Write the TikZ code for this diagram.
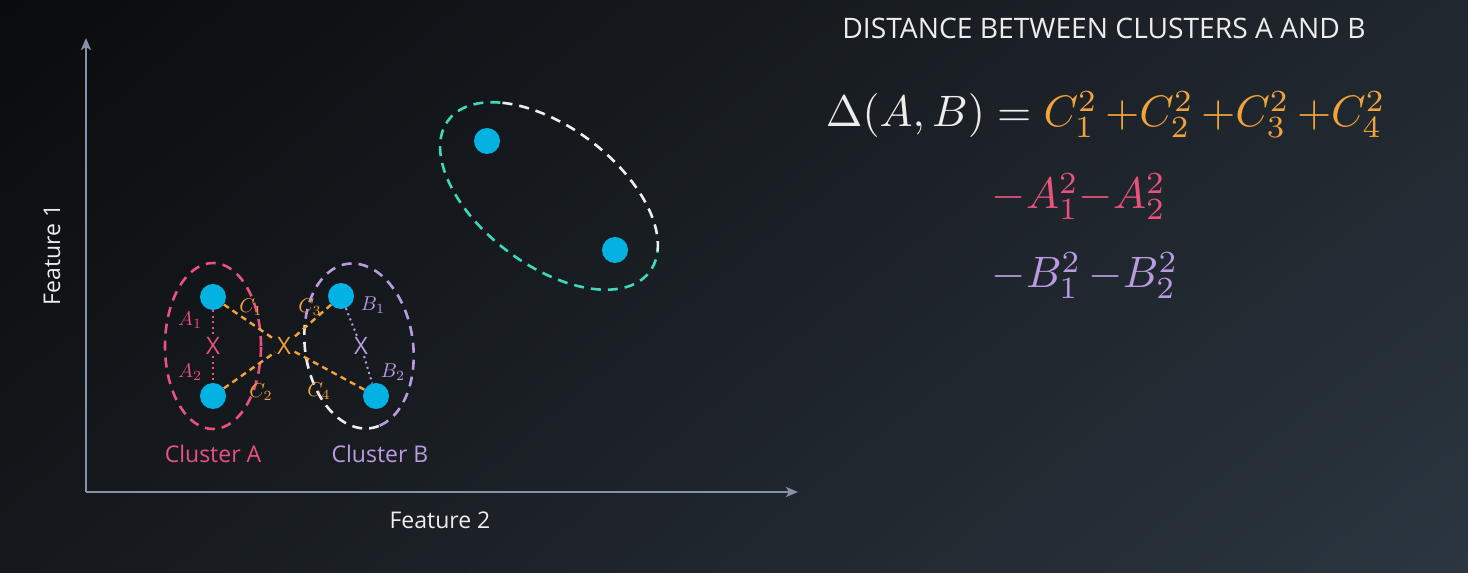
\documentclass[tikz,border=0pt]{standalone}
\usepackage[no-math]{fontspec}
\newfontfamily\opensans{Open Sans}
\usetikzlibrary{arrows.meta, shadings}

\definecolor{bgUL}{HTML}{0A0B0D}
\definecolor{bgUR}{HTML}{20272E}
\definecolor{bgLL}{HTML}{15181C}
\definecolor{bgLR}{HTML}{2B3640}
\definecolor{axisgray}{HTML}{8593A8}
\definecolor{dotblue}{HTML}{03B2E3}
\definecolor{clpink}{HTML}{E8527C}
\definecolor{cllilac}{HTML}{B99BE0}
\definecolor{clorange}{HTML}{F2A33A}
\definecolor{clteal}{HTML}{3FD8B8}
\definecolor{softwhite}{HTML}{EDEDED}

\begin{document}
\begin{tikzpicture}[x=1pt, y=1pt,
    dot/.style={circle, fill=dotblue, inner sep=0pt, minimum size=26pt},
    axisline/.style={-{Stealth[length=12pt, width=10pt, inset=3pt]}, line width=2pt, draw=axisgray},
    ring/.style={line width=2.6pt, dash pattern=on 10pt off 7pt},
    centroid/.style={font=\opensans\fontsize{24}{24}\selectfont, inner sep=1.5pt},
    ptname/.style={font=\normalsize, scale=2, transform shape, inner sep=0pt},
    caption/.style={font=\opensans\fontsize{23}{23}\selectfont, inner sep=0pt},
    formula/.style={font=\normalsize, scale=4.4, transform shape, anchor=base west, inner sep=0pt},
    dotline/.style={line width=2pt, dash pattern=on 2pt off 3.5pt},
    linkline/.style={line width=2.4pt, dash pattern=on 6pt off 4.5pt, draw=clorange}
]
    % background
    \shade[upper left=bgUL, upper right=bgUR, lower left=bgLL, lower right=bgLR]
        (0,0) rectangle (1468,573);
    \useasboundingbox (0,0) rectangle (1468,573);

    % axes
    \coordinate (origin) at (86,81);
    \coordinate (ytip)   at (86,535);
    \coordinate (xtip)   at (798,81);
    \draw[axisline] (origin) -- (ytip);
    \draw[axisline] (origin) -- (xtip);
    \node[caption, text=softwhite, rotate=90] (feat1) at (52,318) {Feature 1};
    \node[caption, text=softwhite]            (feat2) at (440,53) {Feature 2};

    % cluster outlines
    \draw[ring, draw=clpink] (213,227) ellipse [x radius=48, y radius=83];
    \begin{scope}[shift={(359,227)}, rotate=8]
        \draw[ring, draw=cllilac] (280:54 and 83) arc[start angle=280, end angle=520, x radius=54, y radius=83];
        \draw[ring, draw=softwhite] (160:54 and 83) arc[start angle=160, end angle=280, x radius=54, y radius=83];
    \end{scope}
    \begin{scope}[shift={(549,377)}, rotate=-37]
        \draw[ring, draw=clteal] (139:126 and 69) arc[start angle=139, end angle=378, x radius=126, y radius=69];
        \draw[ring, draw=softwhite] (18:126 and 69) arc[start angle=18, end angle=139, x radius=126, y radius=69];
    \end{scope}

    % points
    \node[dot] (a1) at (213,276) {};
    \node[dot] (a2) at (213,177) {};
    \node[dot] (b1) at (341,277) {};
    \node[dot] (b2) at (376,177) {};
    \node[dot] (t1) at (487,432) {};
    \node[dot] (t2) at (615,323) {};

    % centroids
    \node[centroid, text=clpink]   (xa) at (213,227) {X};
    \node[centroid, text=cllilac]  (xb) at (361,227) {X};
    \node[centroid, text=clorange] (xc) at (284,227) {X};

    \draw[dotline, draw=clpink]  (a1) -- (xa);
    \draw[dotline, draw=clpink]  (xa) -- (a2);
    \draw[dotline, draw=cllilac] (b1) -- (xb);
    \draw[dotline, draw=cllilac] (xb) -- (b2);
    \draw[linkline] (a1) -- (xc);
    \draw[linkline] (a2) -- (xc);
    \draw[linkline] (b1) -- (xc);
    \draw[linkline] (b2) -- (xc);

    % point labels
    \node[ptname, text=clpink]   (la1) at (190,253) {$A_1$};
    \node[ptname, text=clpink]   (la2) at (190,201) {$A_2$};
    \node[ptname, text=clorange] (lc1) at (251,266) {$C_1$};
    \node[ptname, text=clorange] (lc2) at (261,181) {$C_2$};
    \node[ptname, text=clorange] (lc3) at (310,266) {$C_3$};
    \node[ptname, text=clorange] (lc4) at (319,182) {$C_4$};
    \node[ptname, text=cllilac]  (lb1) at (373,268) {$B_1$};
    \node[ptname, text=cllilac]  (lb2) at (393,201) {$B_2$};

    \node[caption, text=clpink]  (capa) at (213,119) {Cluster A};
    \node[caption, text=cllilac] (capb) at (380,119) {Cluster B};

    % formula
    \node[font=\opensans\fontsize{28.2}{28.2}\selectfont, text=softwhite] (title) at (1104,545)
        {DISTANCE BETWEEN CLUSTERS A AND B};
    \node[formula, text=softwhite] (eqc) at (825,446)
        {$\Delta(A,B) = \textcolor{clorange}{C_1^2\,{+}C_2^2\,{+}C_3^2\,{+}C_4^2}$};
    \node[formula, text=clpink]  (eqa) at (991,364) {${-}A_1^2{-}A_2^2$};
    \node[formula, text=cllilac] (eqb) at (991,285) {${-}B_1^2\,{-}B_2^2$};
\end{tikzpicture}
\end{document}
